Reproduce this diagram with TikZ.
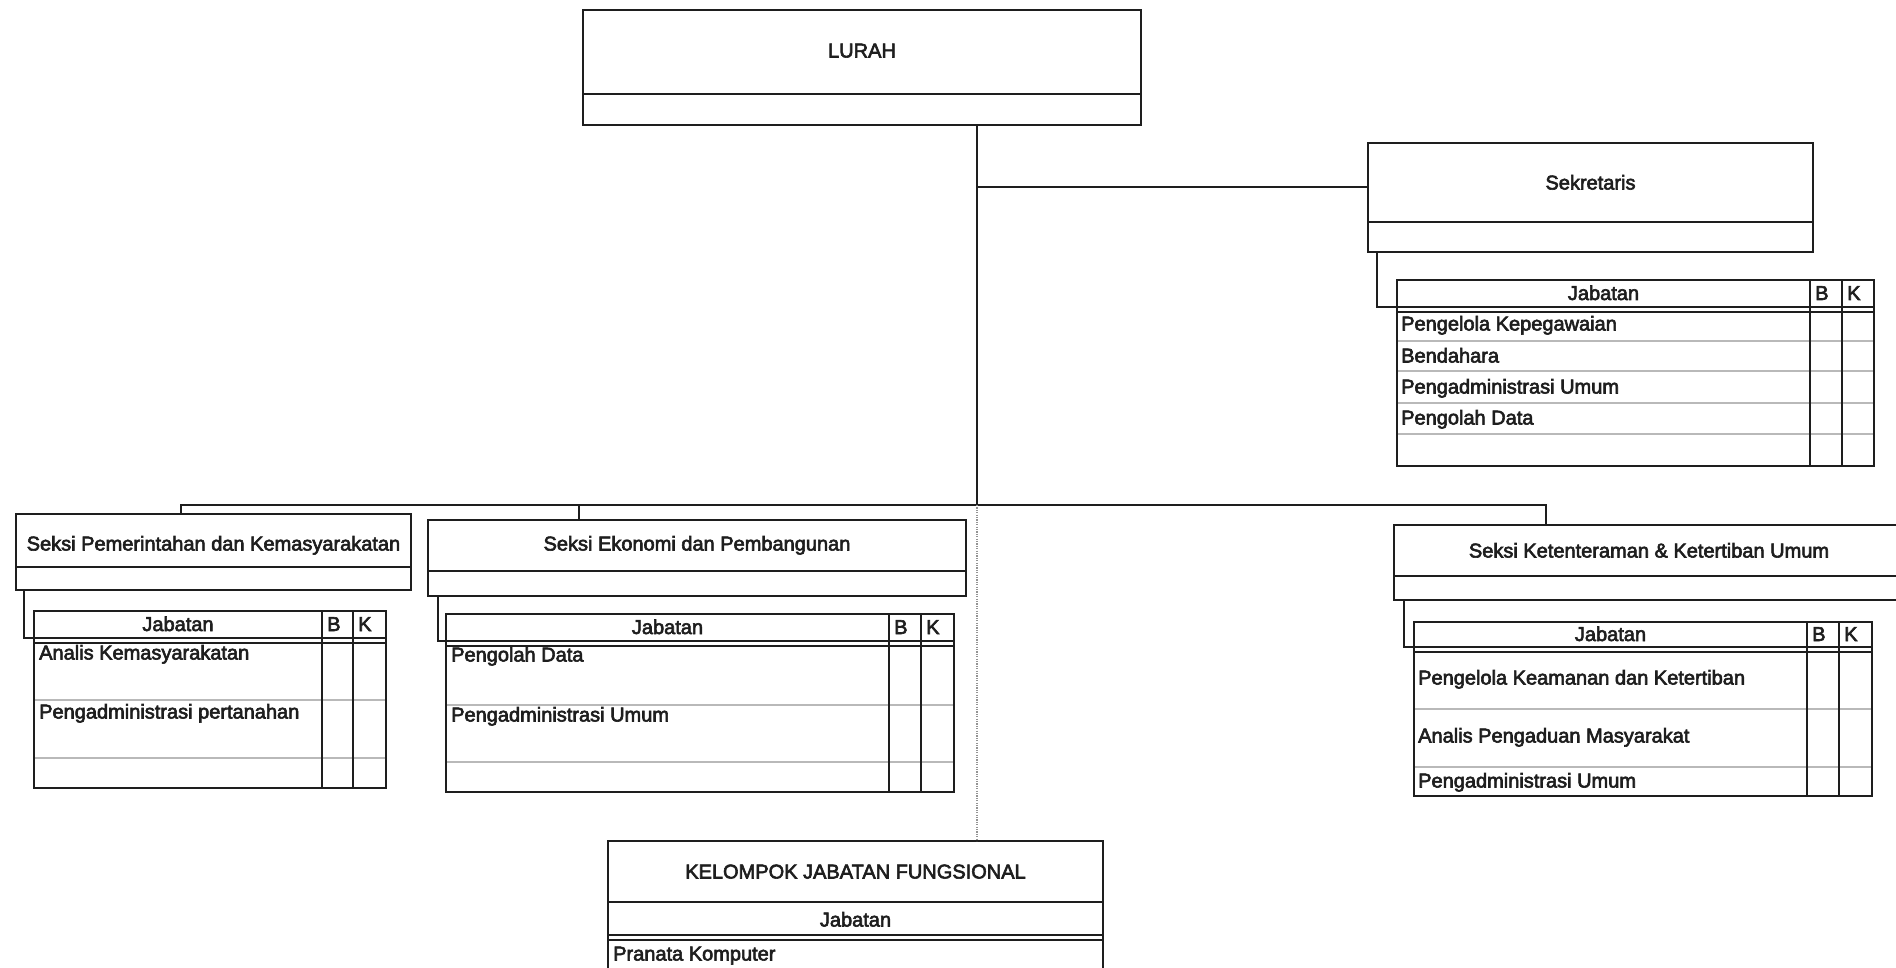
\documentclass[tikz,border=0pt]{standalone}
\usepackage{fontspec}
\setmainfont{Liberation Sans}
\newfontfamily\lblfont{Liberation Sans}[FakeBold=3]
\definecolor{ink}{HTML}{1E1E1E}
\newcommand\lbl{\lblfont\fontsize{20}{24}\selectfont}
\tikzset{
  box/.style={draw=ink, line width=2pt, anchor=north west, inner sep=0pt, outer sep=0pt},
  txt/.style={font=\lbl, inner sep=0pt, text=ink, anchor=base},
  ltxt/.style={txt, anchor=base west},
  conn/.style={draw=ink, line width=2pt},
  thinconn/.style={draw=ink, line width=1.3pt},
  rowline/.style={draw=gray!55, line width=1.2pt},
  dotconn/.style={draw=gray!85, line width=1.6pt, dash pattern=on 1.2pt off 1.2pt},
}
% name x1 y1 x2 y2 div baseline text
\newcommand\OBox[8]{%
  \node[box, minimum width={#4-#2}, minimum height={#5-#3}] (#1) at (#2,#3) {};
  \draw[conn] (#2,#6) -- (#4,#6);
  \node[txt] (#1-t) at ({(#2+#4)/2},#7) {#8};
}
% name x1 y1 x2 y2 headerbottom B K rows
\newcommand\JTable[9]{%
  \foreach \r in {#9} \draw[rowline] (#2,\r) -- (#4,\r);
  \node[box, minimum width={#4-#2}, minimum height={#5-#3}] (#1) at (#2,#3) {};
  \draw[conn] (#2,#6) -- (#4,#6);
  \draw[thinconn] (#2,#6+5) -- (#4,#6+5);
  \draw[conn] (#7,#3) -- (#7,#5);
  \draw[conn] (#8,#3) -- (#8,#5);
  \node[txt] (#1-j) at ({(#2+#7)/2},{(#3+#6)/2+6.5}) {Jabatan};
  \node[ltxt] (#1-b) at ({#7+5},{(#3+#6)/2+6.5}) {B};
  \node[ltxt] (#1-k) at ({#8+5},{(#3+#6)/2+6.5}) {K};
}
\begin{document}
\begin{tikzpicture}[x=1pt,y=-1pt]
\useasboundingbox (0,0) rectangle (1896,968);
\clip (0,0) rectangle (1896,968);
\fill[white] (0,0) rectangle (1896,968);

% --- org boxes
\OBox{lurah}{583}{10}{1141}{125}{94}{57.5}{LURAH}
\OBox{sek}{1368}{143}{1813}{252}{222}{189.5}{Sekretaris}
\OBox{pem}{16}{514}{411}{590}{567}{550.5}{Seksi Pemerintahan dan Kemasyarakatan}
\OBox{eko}{428}{520}{966}{596}{571}{550.5}{Seksi Ekonomi dan Pembangunan}
\OBox{ket}{1394}{525}{1904}{600}{576}{557.5}{Seksi Ketenteraman \& Ketertiban Umum}

% --- Kelompok jabatan fungsional
\node[box, minimum width=495, minimum height=160] (kel) at (608,841) {};
\draw[conn] (608,902) -- (1103,902);
\draw[conn] (608,935) -- (1103,935);
\draw[thinconn] (608,940) -- (1103,940);
\node[txt] (kel-t) at (855.5,878.5) {KELOMPOK JABATAN FUNGSIONAL};
\node[txt] (kel-j) at (855.5,926.5) {Jabatan};
\node[ltxt] (kel-r1) at (613,960.5) {Pranata Komputer};

% --- position tables
\JTable{tsek}{1397}{280}{1874}{466}{307}{1810}{1842}{341,371,403,434}
\node[ltxt] (sek-r1) at (1401,330.5) {Pengelola Kepegawaian};
\node[ltxt] (sek-r2) at (1401,362.5) {Bendahara};
\node[ltxt] (sek-r3) at (1401,393.5) {Pengadministrasi Umum};
\node[ltxt] (sek-r4) at (1401,424.5) {Pengolah Data};

\JTable{tpem}{34}{611}{386}{788}{638}{322}{353}{700,758}
\node[ltxt] (pem-r1) at (39,659.5) {Analis Kemasyarakatan};
\node[ltxt] (pem-r2) at (39,718.5) {Pengadministrasi pertanahan};

\JTable{teko}{446}{614}{954}{792}{641}{889}{921}{705,762}
\node[ltxt] (eko-r1) at (451,661.5) {Pengolah Data};
\node[ltxt] (eko-r2) at (451,721.5) {Pengadministrasi Umum};

\JTable{tket}{1414}{622}{1872}{796}{647}{1807}{1839}{709,767}
\node[ltxt] (ket-r1) at (1418,684.5) {Pengelola Keamanan dan Ketertiban};
\node[ltxt] (ket-r2) at (1418,742.5) {Analis Pengaduan Masyarakat};
\node[ltxt] (ket-r3) at (1418,787.5) {Pengadministrasi Umum};

% --- connectors
\coordinate (tx) at (977,0);
\coordinate (sj) at (977,187);
\coordinate (bus) at (977,505);
\coordinate (bl) at (181,505);
\coordinate (be) at (579,505);
\coordinate (br) at (1546,505);
\draw[conn] (lurah.south -| tx) -- (bus);
\draw[conn] (sj) -- (sj -| sek.west);
\draw[conn] (pem.north -| bl) -- (bl) -- (br) -- (ket.north -| br);
\draw[conn] (be) -- (eko.north -| be);
\draw[dotconn] (bus) -- (kel.north -| tx);

% --- elbows to tables
\draw[conn] ([xshift=9pt]sek.south west) |- ([yshift=-27pt]tsek.north west);
\draw[conn] ([xshift=8pt]pem.south west) |- ([yshift=-27pt]tpem.north west);
\draw[conn] ([xshift=10pt]eko.south west) |- ([yshift=-27pt]teko.north west);
\draw[conn] ([xshift=10pt]ket.south west) |- ([yshift=-25pt]tket.north west);
\end{tikzpicture}
\end{document}
